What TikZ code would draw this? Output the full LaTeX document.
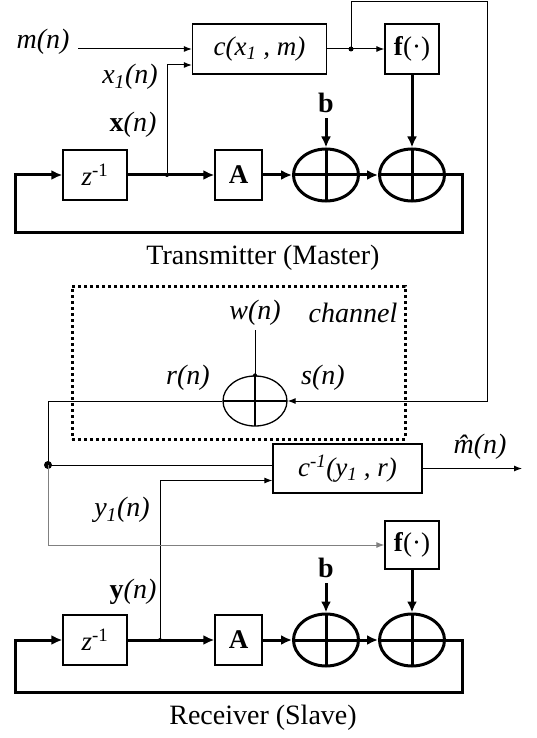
\documentclass[tikz,border=0pt]{standalone}
\usepackage{fontspec}
\setmainfont{Liberation Serif}
\usepackage{tikz}
\usetikzlibrary{arrows.meta, positioning, shapes.geometric, calc}

\tikzset{
  blk/.style={draw, line width=1.3pt, inner sep=0pt, font=\fontsize{27}{31}\selectfont},
  txt/.style={inner sep=0pt, font=\fontsize{28}{32}\selectfont},
  thinsig/.style={line width=1pt, -{Latex[length=8pt,width=6pt]}},
  thicksig/.style={line width=3pt, -{Latex[length=11pt,width=10pt]}},
  sumnode/.style={ellipse, draw, line width=#1, minimum width=65pt, minimum height=52pt,
    inner sep=0pt, path picture={
      \draw[line width=#1] (path picture bounding box.north) -- (path picture bounding box.south)
        (path picture bounding box.west) -- (path picture bounding box.east);}},
}

\begin{document}
\begin{tikzpicture}[x=1pt, y=-1pt]
  \useasboundingbox (0,0) rectangle (537,738);

  % Transmitter (master)
  \node[blk, minimum width=134pt, minimum height=50pt] (enc) at (259.5,49) {\textit{c(x\textsubscript{1} , m)}};
  \node[blk, minimum width=54pt, minimum height=50pt] (f1) at (412,49) {\textbf{f}(·)};
  \node[blk, minimum width=64pt, minimum height=50pt] (z1) at (95,175) {\textit{z}\textsuperscript{-1}};
  \node[blk, minimum width=47pt, minimum height=50pt] (A1) at (238.5,175) {\textbf{A}};
  \node[sumnode=3pt] (s1) at (326,175) {};
  \node[sumnode=3pt] (s2) at (412,175) {};

  \coordinate (min) at (78,49);
  \coordinate (tap) at (351,49);
  \coordinate (topR) at (487,1.5);
  \coordinate (xtap) at (167,175);
  \coordinate (loopTR) at (462,232);
  \coordinate (loopTL) at (15,232);

  \node[txt] (mlab) at (43,42) {\textit{m(n)}};
  \node[txt] (x1lab) at (130,77) {\textit{x\textsubscript{1}(n)}};
  \node[txt] (xlab) at (133,125) {\textbf{x}\textit{(n)}};
  \node[txt] (b1) at (326,103) {\textbf{b}};
  \node[txt] (tx) at (263,258) {Transmitter (Master)};

  \draw[thinsig] (min) -- (enc.west);
  \draw[thinsig] (xtap) |- ($(enc.west)+(0,16)$);
  \draw[thinsig] (enc.east) -- (f1.west);
  \draw[thicksig] (z1.east) -- (A1.west);
  \draw[thicksig] (A1.east) -- (s1.west);
  \draw[thicksig] (s1.east) -- (s2.west);
  \draw[thicksig] (s2.east) -| (loopTR) -- (loopTL) |- (z1.west);
  \draw[thicksig, shorten <=5pt] (b1.south) -- (s1.north);
  \draw[thicksig] (f1.south) -- (s2.north);
  \fill (tap) circle (2.5pt);
  \fill (xtap) circle (2pt);

  % Channel
  \node[draw, line width=3pt, dash pattern=on 3pt off 3pt, minimum width=333pt,
        minimum height=153pt] (chbox) at (238.5,362.5) {};
  \node[sumnode=1.3pt, minimum width=64pt, minimum height=50pt] (ch) at (255,401) {};
  \node[txt] (wlab) at (255,313) {\textit{w(n)}};
  \node[txt] (chlab) at (353,313) {\textit{channel}};
  \node[txt] (rlab) at (188,378) {\textit{r(n)}};
  \node[txt] (slab) at (323,378) {\textit{s(n)}};
  \coordinate (win) at (255,330);
  \coordinate (split) at (48,465);

  \draw[line width=1pt] (win) -- (ch.north);
  \fill (ch.north) circle (2pt);
  \draw[thinsig] (tap) |- (topR) |- (ch.east);
  \draw[line width=1pt] (ch.west) -| (split);
  \fill (split) circle (4pt);

  % Receiver (slave)
  \node[blk, minimum width=149pt, minimum height=49pt] (dec) at (347.5,468.5) {\textit{c\textsuperscript{-1}(y\textsubscript{1} , r)}};
  \node[blk, minimum width=54pt, minimum height=48pt] (f2) at (412,545) {\textbf{f}(·)};
  \node[blk, minimum width=64pt, minimum height=50pt] (z2) at (95,640) {\textit{z}\textsuperscript{-1}};
  \node[blk, minimum width=47pt, minimum height=50pt] (A2) at (238.5,640) {\textbf{A}};
  \node[sumnode=3pt] (s3) at (326,640) {};
  \node[sumnode=3pt] (s4) at (412,640) {};

  \coordinate (mout) at (522,468.5);
  \coordinate (ytap) at (160,640);
  \coordinate (loopBR) at (462,692);
  \coordinate (loopBL) at (15,692);

  \node[txt] (mhlab) at (480,447) {\textit{\^{m}(n)}};
  \node[txt] (y1lab) at (122,510) {\textit{y\textsubscript{1}(n)}};
  \node[txt] (ylab) at (133,592) {\textbf{y}\textit{(n)}};
  \node[txt] (b2) at (326,568) {\textbf{b}};
  \node[txt] (rx) at (263,718) {Receiver (Slave)};

  \draw[line width=1pt] (split) -- (split -| dec.west);
  \draw[thinsig] (dec.east) -- (mout);
  \draw[thinsig] (ytap) |- ($(dec.west)+(0,12)$);
  \draw[thinsig, gray] (split) |- (f2.west);
  \draw[thicksig] (z2.east) -- (A2.west);
  \draw[thicksig] (A2.east) -- (s3.west);
  \draw[thicksig] (s3.east) -- (s4.west);
  \draw[thicksig] (s4.east) -| (loopBR) -- (loopBL) |- (z2.west);
  \draw[thicksig, shorten <=5pt] (b2.south) -- (s3.north);
  \draw[thicksig] (f2.south) -- (s4.north);
  \fill (ytap) circle (2pt);
\end{tikzpicture}
\end{document}
